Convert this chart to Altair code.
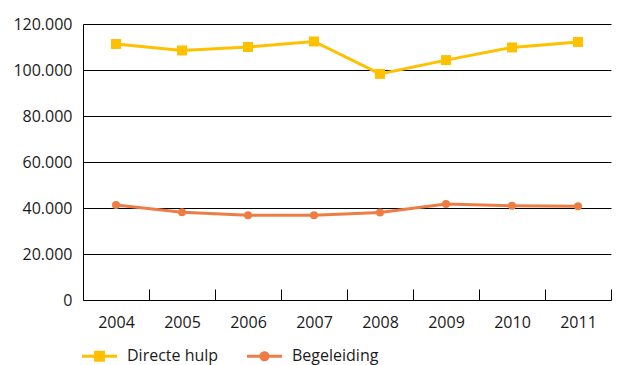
import altair as alt
import pandas as pd

years = ["2004", "2005", "2006", "2007", "2008", "2009", "2010", "2011"]
directe_hulp = [111300, 108500, 110000, 112400, 98300, 104300, 109800, 112200]
begeleiding = [41300, 38200, 36800, 36800, 38000, 41700, 41000, 40800]
series = ["Directe hulp", "Begeleiding"]
colors = ["#FFC000", "#EE7D45"]
y_ticks = [0, 20000, 40000, 60000, 80000, 100000, 120000]

rows = []
for i, yr in enumerate(years):
    rows.append({"jaar": yr, "reeks": series[0], "waarde": directe_hulp[i]})
    rows.append({"jaar": yr, "reeks": series[1], "waarde": begeleiding[i]})
df = pd.DataFrame(rows)

FONT = "Open Sans"
TXT = "#1a1a1a"

x_enc = alt.X(
    "jaar:O", title=None, sort=years, bandPosition=0.5,
    scale=alt.Scale(type="band", paddingInner=0, paddingOuter=0),
    axis=alt.Axis(tickBand="extent", domain=False, offset=-11, tickSize=11,
                  tickColor="black", tickWidth=1, labelPadding=14, labelAngle=0,
                  grid=False, labelFont=FONT, labelFontSize=16, labelColor=TXT),
)
y_enc = alt.Y(
    "waarde:Q", title=None,
    scale=alt.Scale(domain=[0, 120000], nice=False),
    axis=alt.Axis(values=y_ticks,
                  labelExpr="replace(format(datum.value, ',d'), ',', '.')",
                  grid=True, gridColor="black", gridWidth=1, gridOpacity=1,
                  domain=True, domainColor="black", domainWidth=1,
                  ticks=False, tickSize=0, labelPadding=11,
                  labelFont=FONT, labelFontSize=16, labelColor=TXT),
)

base = alt.Chart(df)

def series_layers(name, color, shape, size):
    d = base.transform_filter(alt.datum.reeks == name)
    ln = d.mark_line(strokeWidth=3, color=color).encode(x=x_enc, y=y_enc)
    pt = d.mark_point(shape=shape, filled=True, size=size, opacity=1,
                      strokeWidth=0, color=color).encode(x=x_enc, y=y_enc)
    return [ln, pt]

layers = []
layers += series_layers(series[1], colors[1], "circle", 64)
layers += series_layers(series[0], colors[0], "square", 100)

sq_path = "M-1,-0.09L1,-0.09L1,0.09L-1,0.09Z M-0.31,-0.31L0.31,-0.31L0.31,0.31L-0.31,0.31Z"
ci_path = "M-1,-0.09L1,-0.09L1,0.09L-1,0.09Z M-0.29,0A0.29,0.29 0 1,1 0.29,0A0.29,0.29 0 1,1 -0.29,0Z"

legend_layer = base.mark_point(
    filled=True, opacity=0, strokeWidth=0
).encode(
    x=x_enc, y=y_enc,
    color=alt.Color("reeks:N", scale=alt.Scale(domain=series, range=colors), title=None,
                    legend=alt.Legend(symbolOpacity=1)),
    shape=alt.Shape("reeks:N", scale=alt.Scale(domain=series, range=[sq_path, ci_path]),
                    title=None, legend=alt.Legend(symbolOpacity=1)),
)
layers.append(legend_layer)

chart = alt.layer(*layers).properties(
    width=528, height=276, autosize="none",
    padding={"left": 75, "top": 16, "right": 1, "bottom": 65},
).configure_view(stroke=None).configure_legend(
    orient="none", legendX=-1, legendY=314.5, direction="horizontal",
    symbolSize=1225, symbolStrokeWidth=0, labelFont=FONT, labelFontSize=16,
    labelColor=TXT, labelOffset=10, columnPadding=28, padding=0,
)

chart.save("out.html", embed_options={"renderer": "svg", "actions": False})
